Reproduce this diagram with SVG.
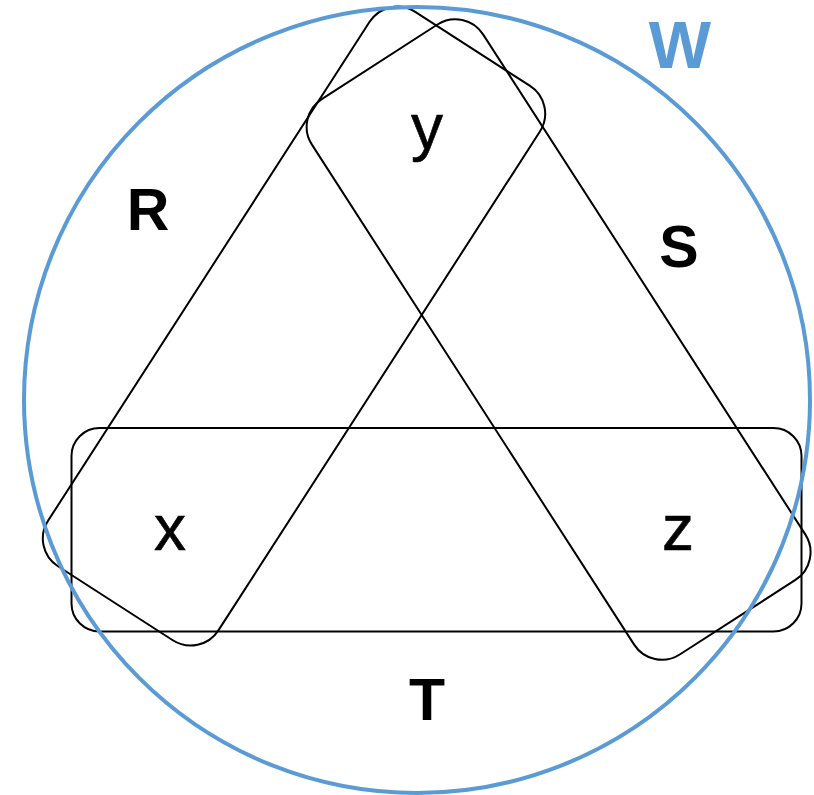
<svg xmlns="http://www.w3.org/2000/svg" width="814" height="795" viewBox="0 0 814 795">
  <style>
    .shape { fill: none; stroke: #000000; stroke-width: 2; }
    .ring { fill: none; stroke: #5B9BD5; stroke-width: 4; }
    .big { font-family: "Liberation Sans", Arial, sans-serif; font-weight: bold; font-size: 59px; fill: #000000; text-anchor: middle; }
    .small { font-family: "Liberation Sans", Arial, sans-serif; font-size: 64px; fill: #000000; stroke: #000000; stroke-width: 0.6; text-anchor: middle; }
    .wlab { font-family: "Liberation Sans", Arial, sans-serif; font-weight: bold; font-size: 66px; fill: #5B9BD5; text-anchor: middle; }
  </style>
  <rect width="814" height="795" fill="#ffffff"/>
  <g id="R">
    <rect class="shape" x="-329.75" y="-101.3" width="659.5" height="202.6" rx="33" transform="translate(294,326.1) rotate(-57.2)"/>
    <text class="big" x="148" y="230">R</text>
  </g>
  <g id="S">
    <rect class="shape" x="-330.4" y="-101.8" width="660.8" height="203.6" rx="33" transform="translate(558.6,339.5) rotate(57.2)"/>
    <text class="big" x="679" y="267">S</text>
  </g>
  <g id="T">
    <rect class="shape" x="71.5" y="428" width="730" height="203.5" rx="28"/>
    <text class="big" x="427" y="720">T</text>
  </g>
  <g id="labels">
    <text class="small" x="170" y="550">x</text>
    <text class="small" x="427" y="149">y</text>
    <text class="small" x="678" y="550">z</text>
  </g>
  <g id="W">
    <circle class="ring" cx="417" cy="400" r="393"/>
    <text class="wlab" x="680" y="68">W</text>
  </g>
</svg>
